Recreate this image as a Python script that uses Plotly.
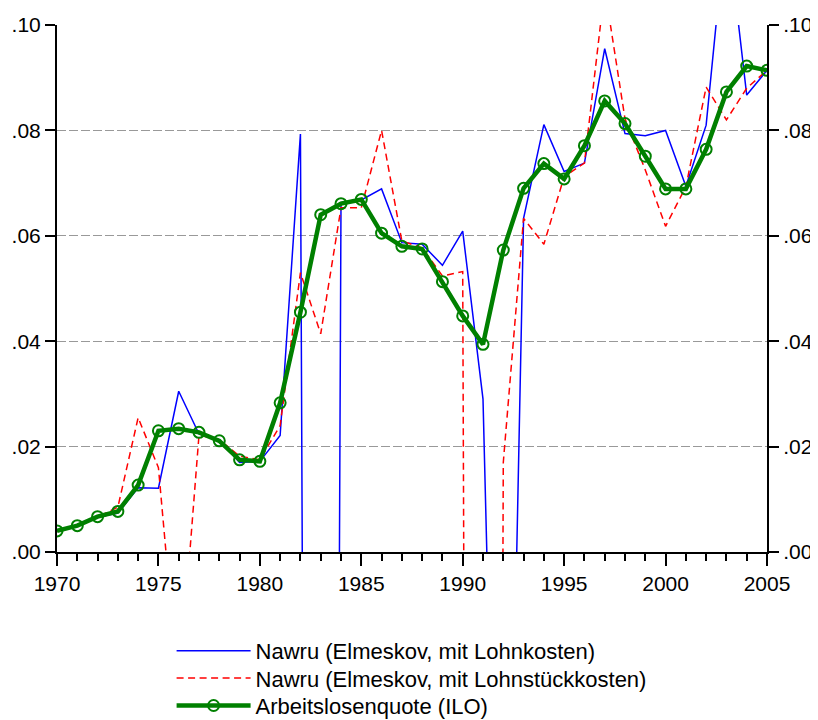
import plotly.graph_objects as go

years = list(range(1970, 2006))

nawru_lohnkosten = [
    0.0040, 0.0050, 0.0066, 0.0074, 0.0122, 0.0121, 0.0305, 0.0224, 0.0213, 0.0170,
    0.0172, 0.0221, 0.0793, -0.8000, 0.0663, 0.0668, 0.0689, 0.0587, 0.0584, 0.0544,
    0.0609, 0.0290, -0.1250, 0.0633, 0.0811, 0.0722, 0.0738, 0.0955, 0.0794, 0.0790,
    0.0800, 0.0694, 0.0810, 0.1200, 0.0867, 0.0914,
]

nawru_lohnstueck = [
    0.0040, 0.0050, 0.0066, 0.0085, 0.0255, 0.0160, -0.0270, 0.0222, 0.0213, 0.0182,
    0.0175, 0.0240, 0.0530, 0.0414, 0.0653, 0.0653, 0.0800, 0.0590, 0.0577, 0.0524,
    0.0532, -1.0000, 0.0170, 0.0633, 0.0584, 0.0712, 0.0738, 0.1070, 0.0822, 0.0725,
    0.0618, 0.0693, 0.0882, 0.0820, 0.0880, 0.0914,
]

alq_ilo = [
    0.0040, 0.0050, 0.0067, 0.0077, 0.0127, 0.0230, 0.0234, 0.0227, 0.0211, 0.0175,
    0.0172, 0.0283, 0.0455, 0.0640, 0.0661, 0.0669, 0.0605, 0.0580, 0.0575, 0.0513,
    0.0448, 0.0394, 0.0573, 0.0690, 0.0737, 0.0708, 0.0771, 0.0856, 0.0813, 0.0751,
    0.0689, 0.0689, 0.0764, 0.0873, 0.0922, 0.0914,
]

names = [
    "Nawru (Elmeskov, mit Lohnkosten)",
    "Nawru (Elmeskov, mit Lohnstückkosten)",
    "Arbeitslosenquote (ILO)",
]

y_tickvals = [0.0, 0.02, 0.04, 0.06, 0.08, 0.10]
y_ticktext = [".00", ".02", ".04", ".06", ".08", ".10"]
x_tickvals = [1970, 1975, 1980, 1985, 1990, 1995, 2000, 2005]

FONT = "Liberation Sans, Arial, sans-serif"

fig = go.Figure()
fig.add_trace(go.Scatter(
    x=years, y=nawru_lohnkosten, name=names[0], mode="lines",
    line=dict(color="#0000FF", width=1.5), legend="legend",
))
fig.add_trace(go.Scatter(
    x=years, y=nawru_lohnstueck, name=names[1], mode="lines",
    line=dict(color="#FF0000", width=1.5, dash="7px,4.5px"), legend="legend2",
))
fig.add_trace(go.Scatter(
    x=years, y=alq_ilo, name=names[2], mode="lines+markers",
    line=dict(color="#008000", width=4.5),
    marker=dict(symbol="circle-open", size=11, color="#008000", line=dict(width=2, color="#008000")),
    legend="legend3",
))
# mirror trace for the right-hand axis (not shown)
fig.add_trace(go.Scatter(
    x=years, y=alq_ilo, yaxis="y2", mode="lines", showlegend=False,
    line=dict(color="rgba(0,0,0,0)", width=0), hoverinfo="skip",
))

leg_common = dict(
    x=0.1614, xanchor="left", yanchor="middle",
    font=dict(family=FONT, size=22, color="black"),
    itemwidth=74, bgcolor="rgba(0,0,0,0)",
)

fig.update_layout(
    width=810, height=712,
    margin=dict(l=49, r=51, t=17, b=168, autoexpand=False),
    paper_bgcolor="white", plot_bgcolor="white",
    font=dict(family=FONT, size=21, color="black"),
    showlegend=True,
    legend=dict(y=-0.1879, **leg_common),
    legend2=dict(y=-0.2397, **leg_common),
    legend3=dict(y=-0.2917, **leg_common),
    xaxis=dict(
        range=[1970, 2005], tickvals=x_tickvals, ticks="outside", ticklen=12,
        tickwidth=1.5, tickcolor="black", showgrid=False, zeroline=False,
        showline=True, linecolor="black", linewidth=2, automargin=False,
        tickfont=dict(family=FONT, size=21),
        minor=dict(dtick=1, tick0=1970, ticks="outside", ticklen=7, tickwidth=1.5,
                   tickcolor="black", showgrid=False),
    ),
    yaxis=dict(
        range=[0, 0.1], tickvals=y_tickvals, ticktext=y_ticktext,
        ticks="outside", ticklen=10, tickwidth=2, tickcolor="black",
        showgrid=True, gridcolor="#999999", griddash="9px,3px", gridwidth=1.2,
        zeroline=False, showline=True, linecolor="black", linewidth=2,
        automargin=False, tickfont=dict(family=FONT, size=21),
    ),
    yaxis2=dict(
        range=[0, 0.1], tickvals=y_tickvals, ticktext=y_ticktext,
        overlaying="y", side="right",
        ticks="outside", ticklen=10, tickwidth=2, tickcolor="black",
        showgrid=False, zeroline=False, showline=True, linecolor="black", linewidth=2,
        automargin=False, tickfont=dict(family=FONT, size=21),
    ),
)

fig.write_html("out.html")
